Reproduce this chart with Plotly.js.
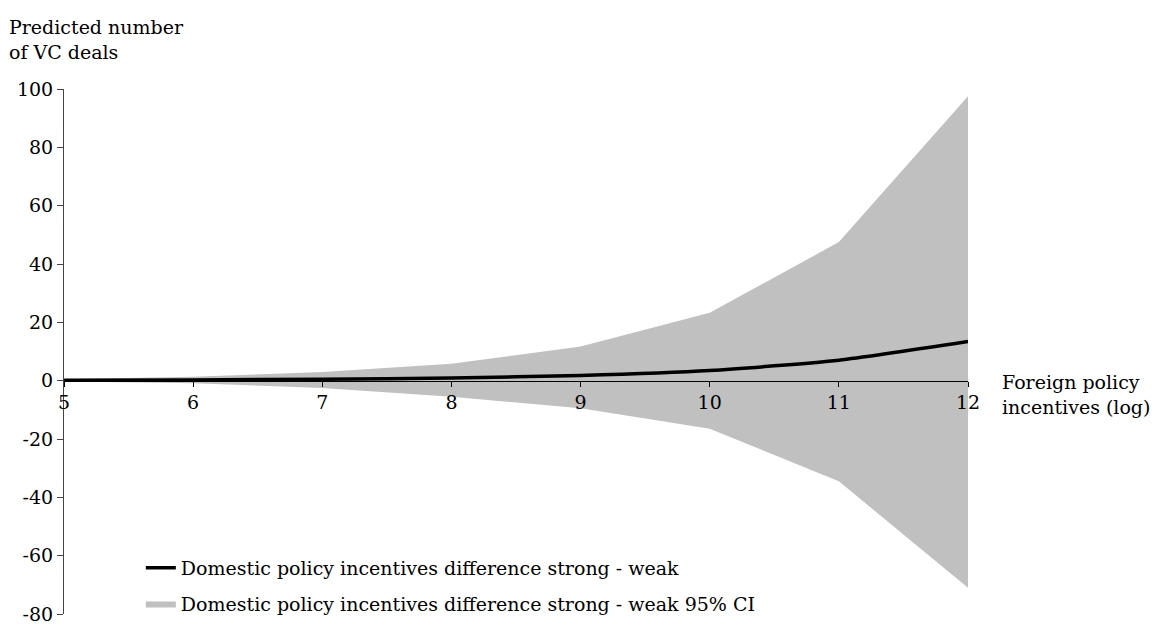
<!DOCTYPE html>
<html>
<head>
<meta charset="utf-8">
<script src="https://cdn.plot.ly/plotly-3.0.1.min.js"></script>
<style>
html,body{margin:0;padding:0;background:#fff;}
#chart{width:1159px;height:635px;position:absolute;left:0;top:0;}
</style>
</head>
<body>
<div id="chart"></div>
<script>
const xValues = [5, 6, 7, 8, 9, 10, 11, 12];
const diffEstimate = [0.1, 0.25, 0.5, 0.9, 1.8, 3.5, 7.0, 13.4];
const ciUpper = [0.5, 1.3, 3.0, 5.8, 11.7, 23.3, 47.5, 97.5];
const ciLower = [-0.3, -0.9, -2.5, -5.5, -9.5, -16.5, -34.5, -71.0];
const yTickVals = [-80, -60, -40, -20, 0, 20, 40, 60, 80, 100];
const yTickText = ['-80', '-60', '-40', '-20', '0', '20', '40', '60', '80', '100'];
const xTickVals = [5, 6, 7, 8, 9, 10, 11, 12];
const xTickText = ['5', '6', '7', '8', '9', '10', '11', '12'];

const FONT = 'DejaVu Serif, Liberation Serif, serif';
const FS = 19;

const traces = [
  {x: xValues, y: ciLower, type: 'scatter', mode: 'lines', line: {width: 0, color: '#c0c0c0'},
   showlegend: false, hoverinfo: 'skip', legendgroup: 'ci'},
  {x: xValues, y: ciUpper, type: 'scatter', mode: 'lines', fill: 'tonexty', fillcolor: '#c0c0c0',
   line: {width: 0, color: '#c0c0c0'}, name: 'Domestic policy incentives difference strong - weak 95% CI',
   legendgroup: 'ci', legendrank: 2},
  {x: xValues, y: diffEstimate, type: 'scatter', mode: 'lines', line: {color: '#000', width: 3.5, shape: 'spline', smoothing: 0.6},
   name: 'Domestic policy incentives difference strong - weak', legendgroup: 'est', legendrank: 1}
];

const layout = {
  width: 1159, height: 635,
  margin: {l: 64, r: 191, t: 89, b: 21, autoexpand: false},
  paper_bgcolor: '#fff', plot_bgcolor: 'rgba(0,0,0,0)',
  font: {family: FONT, size: FS, color: '#000'},
  showlegend: true,
  legend: {x: 0.085, y: 0.124, xanchor: 'left', yanchor: 'top', bgcolor: 'rgba(0,0,0,0)',
           font: {family: FONT, size: FS, color: '#000'}, tracegroupgap: 8, itemwidth: 30},
  xaxis: {range: [5, 12], anchor: 'free', position: 80/180, showgrid: false, zeroline: false,
          showline: true, linecolor: '#000', linewidth: 1, ticks: 'outside', ticklen: 5, tickcolor: '#000',
          tickvals: xTickVals, ticktext: xTickText, tickfont: {family: FONT, size: FS, color: '#000'}},
  yaxis: {range: [-80, 100], showgrid: false, zeroline: false, showline: true, linecolor: '#444', linewidth: 1,
          ticks: 'outside', ticklen: 6, tickcolor: '#444', tickvals: yTickVals, ticktext: yTickText,
          tickfont: {family: FONT, size: FS, color: '#000'}},
  annotations: [
    {xref: 'paper', yref: 'paper', x: -0.063, y: 1.0, xanchor: 'left', yanchor: 'bottom', yshift: 24,
     text: 'Predicted number<br>of VC deals', showarrow: false, align: 'left',
     font: {family: FONT, size: FS, color: '#000'}},
    {xref: 'paper', yref: 'paper', x: 1.0, y: 80/180, xanchor: 'left', yanchor: 'middle', xshift: 32, yshift: -14,
     text: 'Foreign policy<br>incentives (log)', showarrow: false, align: 'left',
     font: {family: FONT, size: FS, color: '#000'}}
  ]
};

Plotly.newPlot('chart', traces, layout, {displayModeBar: false});
</script>
</body>
</html>
